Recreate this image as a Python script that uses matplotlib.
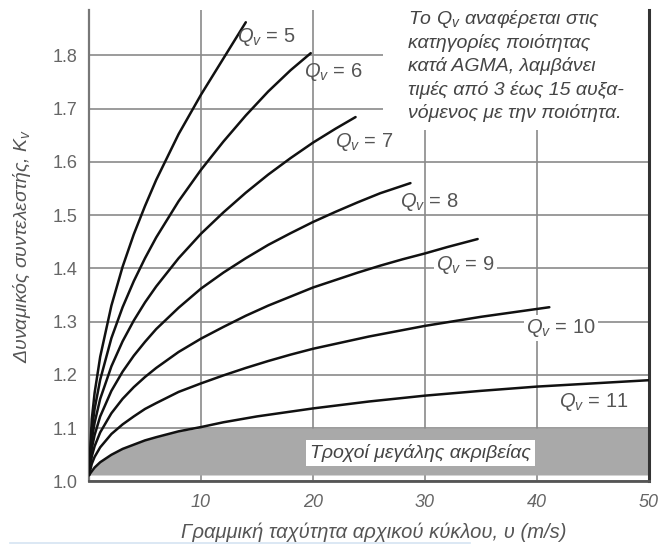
import numpy as np
import matplotlib.pyplot as plt
from matplotlib.patches import Rectangle
from matplotlib.lines import Line2D

plt.rcParams['font.family'] = ['Liberation Sans', 'DejaVu Sans']
plt.rcParams['mathtext.fontset'] = 'custom'
plt.rcParams['mathtext.rm'] = 'Liberation Sans'
plt.rcParams['mathtext.it'] = 'Liberation Sans:italic'

# Pitch-line velocity (m/s) and dynamic factor Kv for each AGMA quality number Qv
qv5_v = [0, 0.25, 0.5, 1, 2, 3, 4, 5, 6, 8, 10, 12, 14.0]
qv5_k = [1.012, 1.117, 1.166, 1.234, 1.330, 1.403, 1.464, 1.517, 1.566, 1.652, 1.726, 1.794, 1.862]

qv6_v = [0, 0.25, 0.5, 1, 2, 3, 4, 5, 6, 8, 10, 12, 14, 16, 18, 19.8]
qv6_k = [1.012, 1.096, 1.136, 1.191, 1.269, 1.327, 1.376, 1.419, 1.458, 1.526, 1.585, 1.638,
         1.687, 1.732, 1.772, 1.804]

qv7_v = [0, 0.25, 0.5, 1, 2, 3, 4, 5, 6, 8, 10, 12, 14, 16, 18, 20, 22, 23.8]
qv7_k = [1.012, 1.078, 1.110, 1.155, 1.216, 1.263, 1.302, 1.336, 1.366, 1.419, 1.465, 1.505,
         1.542, 1.576, 1.607, 1.636, 1.662, 1.684]

qv8_v = [0, 0.25, 0.5, 1, 2, 3, 4, 5, 6, 8, 10, 12, 14, 16, 18, 20, 22, 24, 26, 28.7]
qv8_k = [1.012, 1.062, 1.087, 1.122, 1.170, 1.206, 1.236, 1.262, 1.286, 1.326, 1.362, 1.392,
         1.419, 1.444, 1.466, 1.487, 1.506, 1.524, 1.541, 1.560]

qv9_v = [0, 0.25, 0.5, 1, 2, 3, 4, 5, 6, 8, 10, 12, 14, 16, 18, 20, 22, 24, 26, 28, 30, 32, 34.7]
qv9_k = [1.012, 1.047, 1.066, 1.092, 1.128, 1.155, 1.177, 1.196, 1.213, 1.243, 1.268, 1.290,
         1.311, 1.330, 1.347, 1.364, 1.378, 1.392, 1.405, 1.417, 1.428, 1.440, 1.455]

qv10_v = [0, 0.25, 0.5, 1, 2, 3, 4, 5, 6, 8, 10, 12, 14, 16, 18, 20, 25, 30, 35, 41.1]
qv10_k = [1.012, 1.033, 1.046, 1.064, 1.089, 1.107, 1.122, 1.136, 1.147, 1.168, 1.184, 1.199,
          1.213, 1.226, 1.238, 1.249, 1.272, 1.292, 1.309, 1.327]

qv11_v = [0, 0.25, 0.5, 1, 2, 3, 4, 5, 6, 8, 10, 12, 15, 20, 25, 30, 35, 40, 45, 50]
qv11_k = [1.012, 1.019, 1.026, 1.036, 1.050, 1.061, 1.069, 1.077, 1.083, 1.094, 1.102, 1.111,
          1.122, 1.137, 1.150, 1.161, 1.170, 1.178, 1.184, 1.190]

curves = [(qv5_v, qv5_k), (qv6_v, qv6_k), (qv7_v, qv7_k), (qv8_v, qv8_k),
          (qv9_v, qv9_k), (qv10_v, qv10_k), (qv11_v, qv11_k)]

quality_numbers = [5, 6, 7, 8, 9, 10, 11]
label_pos = [(13.2, 1.834), (19.2, 1.768), (22.0, 1.637), (27.8, 1.524),
             (31.0, 1.406), (39.0, 1.288), (42.0, 1.149)]
label_boxed = [False, False, False, False, True, True, False]

precision_band_top = 1.1
precision_band_bottom = 1.012

x_ticks = [10, 20, 30, 40, 50]
y_ticks = [1.0, 1.1, 1.2, 1.3, 1.4, 1.5, 1.6, 1.7, 1.8]

note_lines = ["Το $Q_v$ αναφέρεται στις",
              "κατηγορίες ποιότητας",
              "κατά AGMA, λαμβάνει",
              "τιμές από 3 έως 15 αυξα-",
              "νόμενος με την ποιότητα."]

W, H = 658, 545
fig = plt.figure(figsize=(W / 100, H / 100), dpi=100)
fig.patch.set_facecolor('white')
ax = fig.add_axes([89 / W, 1 - 481.4 / H, 560 / W, 471.4 / H])
ax.set_xlim(0, 50)
ax.set_ylim(1.0, 1.885)

# grid
ax.set_axisbelow(True)
ax.set_xticks(x_ticks)
ax.set_yticks(y_ticks)
ax.grid(True, color='#8a8a8a', linewidth=1.2)
ax.tick_params(length=0)
ax.set_yticklabels([f"{t:.1f}" for t in y_ticks], fontsize=13, color='#666666')
ax.set_xticklabels([str(t) for t in x_ticks], fontsize=13, color='#666666', style='italic')
ax.tick_params(axis='y', pad=8.5)
ax.tick_params(axis='x', pad=9)

# spines
ax.spines['top'].set_visible(False)
ax.spines['left'].set_color('#777777')
ax.spines['left'].set_linewidth(1.6)
ax.spines['bottom'].set_color('#555555')
ax.spines['bottom'].set_linewidth(2.0)
ax.spines['right'].set_color('#333333')
ax.spines['right'].set_linewidth(2.2)

# high-precision gear band under the Qv = 11 curve
v11 = np.array(qv11_v)
k11 = np.array(qv11_k)
ax.fill_between(v11, precision_band_bottom, np.minimum(k11, precision_band_top),
                color='#a9a9a9', linewidth=0, zorder=1)
ax.text(29.6, 1.053, "Τροχοί μεγάλης ακριβείας", ha='center', va='center',
        fontsize=14, style='italic', color='#444444', zorder=4,
        bbox=dict(boxstyle='square,pad=0.2', fc='white', ec='none'))

# blank area behind the note
ax.add_patch(Rectangle((26.25, 1.659), 50 - 26.25, 1.885 - 1.659,
                       facecolor='white', edgecolor='none', zorder=1))

# Kv curves
for (v, k) in curves:
    ax.plot(v, k, color='#111111', linewidth=1.8, solid_capstyle='round', zorder=3)

# curve labels
for q, (lx, ly), boxed in zip(quality_numbers, label_pos, label_boxed):
    kw = dict(ha='left', va='center', fontsize=14.5, color='#555555', zorder=4)
    if boxed:
        kw['bbox'] = dict(boxstyle='square,pad=0.1', fc='white', ec='none')
    ax.text(lx, ly, f"$Q_v$ = {q}", **kw)

# note text
for i, line in enumerate(note_lines):
    ax.text((408 - 89) / 560, (481.4 - (19 + 23.6 * i)) / 471.4, line,
            transform=ax.transAxes, ha='left', va='center', fontsize=14,
            style='italic', color='#444444', zorder=4)

# axis titles
ax.set_xlabel("Γραμμική ταχύτητα αρχικού κύκλου, υ (m/s)", fontsize=14.5,
              style='italic', color='#555555', va='center')
ax.xaxis.set_label_coords((374 - 89) / 560, (481.4 - 532) / 471.4)
ax.set_ylabel("Δυναμικός συντελεστής, $K_v$", fontsize=14,
              style='italic', color='#555555', va='center')
ax.yaxis.set_label_coords((22 - 89) / 560, (481.4 - 246) / 471.4)

fig.add_artist(Line2D([0.015, 0.715], [0.004, 0.004], color='#d5e4f2',
                      linewidth=1.2, transform=fig.transFigure))

fig.savefig('out.png', dpi=100, facecolor='white')
